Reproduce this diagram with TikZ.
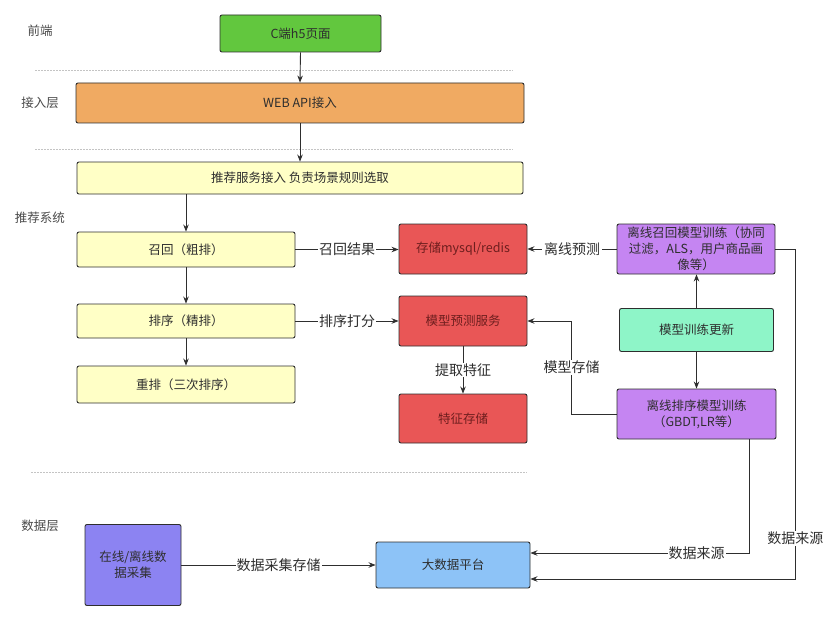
\documentclass[tikz,border=0pt]{standalone}
\usepackage{fontspec}
\setmainfont{Noto Sans CJK SC}
\usepackage{tikz}
\usetikzlibrary{arrows.meta,positioning,calc}
\definecolor{ink}        {HTML}{2E2E2E}
\definecolor{inkgray}    {HTML}{4A4A4A}
\definecolor{redtext}    {HTML}{6E1E1E}
\definecolor{h5green}    {HTML}{62C73E}
\definecolor{apiorange}  {HTML}{F0AA62}
\definecolor{recyellow}  {HTML}{FFFFC6}
\definecolor{storered}   {HTML}{E95656}
\definecolor{trainpurple}{HTML}{C585F2}
\definecolor{trainmint}  {HTML}{8EF5C8}
\definecolor{datablue}   {HTML}{8DC3F7}
\definecolor{collectblue}{HTML}{8C83F2}
\definecolor{sepgray}    {HTML}{C4C4C4}
\tikzset{
  flowbox/.style   ={draw=ink, line width=0.9pt, rounded corners=2pt,
                     align=center, font=\fontsize{12.5}{16}\selectfont,
                     text=ink, inner sep=2pt},
  redbox/.style    ={flowbox, fill=storered, text=redtext,
                     minimum width=128pt, minimum height=50pt},
  trainbox/.style  ={flowbox, fill=trainpurple,
                     minimum width=158pt, minimum height=50pt},
  recbox/.style    ={flowbox, fill=recyellow,
                     minimum width=218pt, minimum height=35pt},
  layerlabel/.style={font=\fontsize{12.5}{15}\selectfont, text=inkgray},
  flowarr/.style   ={-{Stealth[length=7pt,width=5.5pt]}, line width=0.9pt, draw=ink},
  arrlabel/.style  ={fill=white, inner sep=1pt,
                     font=\fontsize{14}{16}\selectfont, text=ink},
  sepline/.style   ={draw=sepgray, line width=0.5pt, dash pattern=on 2pt off 1pt},
}

\begin{document}
\begin{tikzpicture}[x=1pt,y=-1pt]
  \useasboundingbox[fill=white] (0,0) rectangle (831,626);

  % layers
  \node[layerlabel] (lfront)  at (40,31)  {前端};
  \node[layerlabel] (laccess) at (40,103) {接入层};
  \node[layerlabel] (lrec)    at (40,218) {推荐系统};
  \node[layerlabel] (ldata)   at (40,526) {数据层};
  \draw[sepline] (35,70)  -- (513,70);
  \draw[sepline] (35,149) -- (513,149);
  \draw[sepline] (31,472) -- (527,472);

  \node[flowbox,fill=h5green,minimum width=161pt,minimum height=37pt] (h5) at (300.5,33.5) {C端h5页面};
  \node[flowbox,fill=apiorange,minimum width=448pt,minimum height=40pt] (webapi) at (300,103) {WEB API接入};
  \node[flowbox,fill=recyellow,minimum width=446pt,minimum height=32pt] (access) at (300,178) {推荐服务接入 负责场景规则选取};

  \node[recbox] (recall) at (186,249.5) {召回（粗排）};
  \node[recbox,minimum height=34pt] (rank)   at (186,321)   {排序（精排）};
  \node[recbox,minimum height=37pt] (rerank) at (186,384.5) {重排（三次排序）};

  \node[redbox] (store)   at (463,249)   {存储mysql/redis};
  \node[redbox] (predict) at (463,321)   {模型预测服务};
  \node[redbox,minimum height=49pt] (feature) at (463,418.5) {特征存储};

  \node[trainbox] (offrecall) at (696,249) {离线召回模型训练（协同\\过滤，ALS，用户商品画\\像等）};
  \node[flowbox,fill=trainmint,minimum width=154pt,minimum height=43pt] (train) at (696.5,330) {模型训练更新};
  \node[trainbox,minimum width=159pt] (offrank) at (696.5,414) {离线排序模型训练\\（GBDT,LR等）};

  \node[flowbox,fill=collectblue,minimum width=96pt,minimum height=81pt] (collect) at (133,565) {在线/离线数\\据采集};
  \node[flowbox,fill=datablue,minimum width=154pt,minimum height=46pt] (bigdata) at (453,565) {大数据平台};

  % connectors
  \draw[flowarr] (h5.south) -- (webapi.north);
  \draw[flowarr] (webapi.south) -- (access.north);
  \draw[flowarr] (recall.north |- access.south) -- (recall.north);
  \draw[flowarr] (recall.south) -- (rank.north);
  \draw[flowarr] (rank.south) -- (rerank.north);
  \draw[flowarr] (recall.east) -- node[arrlabel] {召回结果} (store.west |- recall.east);
  \draw[flowarr] (rank.east) -- node[arrlabel] {排序打分} (predict.west |- rank.east);
  \draw[flowarr] (predict.south) -- node[arrlabel] {提取特征} (feature.north);
  \draw[flowarr] (offrecall.west) -- node[arrlabel,inner sep=2pt] {离线预测} (store.east);
  \draw[flowarr] (train.north) -- (train.north |- offrecall.south);
  \draw[flowarr] (train.south) -- (train.south |- offrank.north);
  \draw[flowarr] (offrank.west) -- ++(-45,0) |- node[arrlabel,pos=0.25] {模型存储} (predict.east);
  \draw[flowarr] ([xshift=52.5pt]offrank.south) |- node[arrlabel,pos=0.62] {数据来源} ([yshift=12pt]bigdata.east);
  \draw[flowarr] (offrecall.east) -- ++(20,0) |- node[arrlabel,pos=0.438] {数据来源} ([yshift=-14pt]bigdata.east);
  \draw[flowarr] (collect.east) -- node[arrlabel] {数据采集存储} (bigdata.west);
\end{tikzpicture}
\end{document}
